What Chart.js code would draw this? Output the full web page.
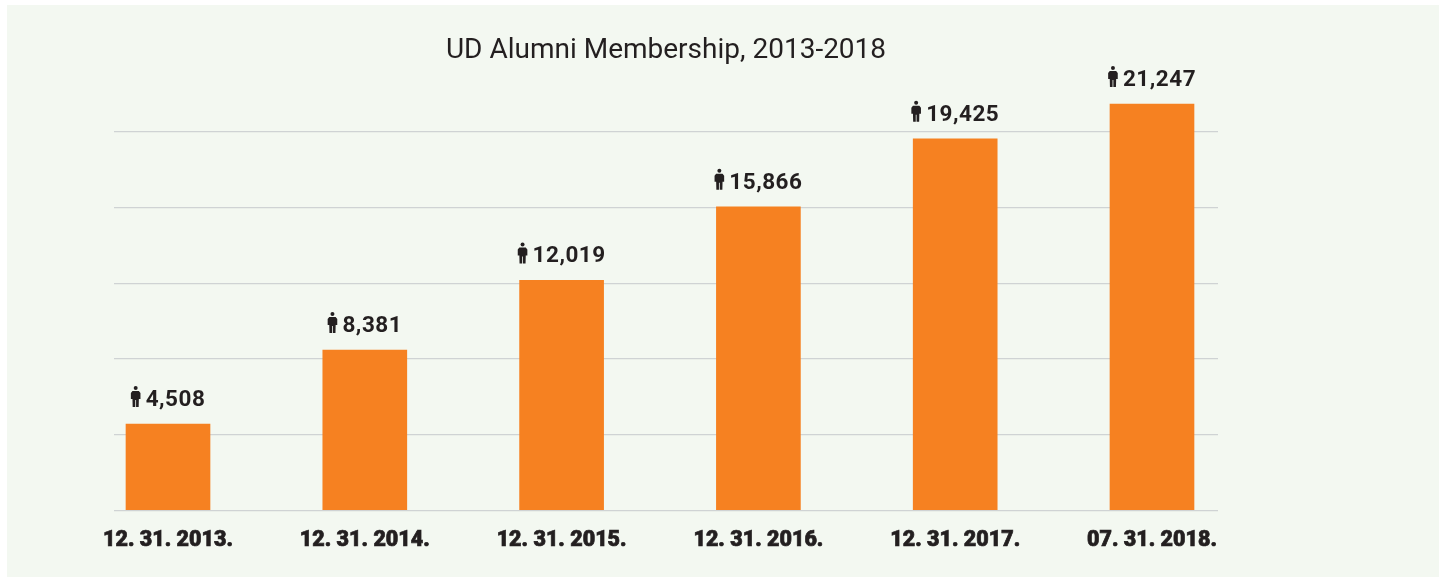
<!DOCTYPE html>
<html>
<head>
<meta charset="utf-8">
<style>
html,body{margin:0;padding:0;background:#fff;overflow:hidden}
#panel{position:absolute;left:7px;top:5px;width:1432px;height:572px;background:#f3f8f1}
#wrap{position:absolute;left:0;top:0;width:1439px;height:577px}
</style>
<script src="https://cdn.jsdelivr.net/npm/chart.js@4"></script>
</head>
<body>
<div id="panel"></div>
<div id="wrap"><canvas id="c" width="1439" height="577"></canvas></div>
<script>
const chartTitle = 'UD Alumni Membership, 2013-2018';
const categories = ['12. 31. 2013.','12. 31. 2014.','12. 31. 2015.','12. 31. 2016.','12. 31. 2017.','07. 31. 2018.'];
const members = [4508, 8381, 12019, 15866, 19425, 21247];
const gridValues = [0, 3957, 7914, 11871, 15828, 19785];
const ink = '#231f20';

const memberLabels = {
  id: 'memberLabels',
  afterDatasetsDraw(chart) {
    const ctx = chart.ctx;
    const bars = chart.getDatasetMeta(0).data;
    ctx.save();
    ctx.font = '700 22.5px Roboto';
    ctx.letterSpacing = '0.5px';
    ctx.fillStyle = ink;
    ctx.textBaseline = 'alphabetic';
    ctx.textAlign = 'left';
    bars.forEach((bar, i) => {
      const text = members[i].toLocaleString('en-US');
      const tw = ctx.measureText(text).width;
      const iconW = 10, gap = 5;
      const left = bar.x - (iconW + gap + tw) / 2;
      const base = bar.y - 18;
      ctx.fillText(text, left + iconW + gap, base);
      // person icon
      const cx = left + iconW / 2, top = base - 20;
      ctx.beginPath();
      ctx.arc(cx, top + 2, 2, 0, Math.PI * 2);
      ctx.fill();
      ctx.beginPath();
      ctx.moveTo(cx - 3.2, top + 5);
      ctx.lineTo(cx + 3.2, top + 5);
      ctx.lineTo(cx + 4.8, top + 7);
      ctx.lineTo(cx + 4.8, top + 13);
      ctx.lineTo(cx + 3.2, top + 13);
      ctx.lineTo(cx + 3, top + 21);
      ctx.lineTo(cx + 0.4, top + 21);
      ctx.lineTo(cx + 0.4, top + 14);
      ctx.lineTo(cx - 0.4, top + 14);
      ctx.lineTo(cx - 0.4, top + 21);
      ctx.lineTo(cx - 3, top + 21);
      ctx.lineTo(cx - 3.2, top + 13);
      ctx.lineTo(cx - 4.8, top + 13);
      ctx.lineTo(cx - 4.8, top + 7);
      ctx.closePath();
      ctx.fill();
    });
    ctx.restore();
  }
};

new Chart(document.getElementById('c'), {
  type: 'bar',
  data: {
    datasets: [{
      data: members.map((v, i) => ({ x: i, y: v })),
      backgroundColor: '#f68121',
      barThickness: 84,
      borderWidth: 0
    }]
  },
  options: {
    responsive: false,
    animation: false,
    layout: { padding: { left: 114, right: 221, top: 0, bottom: 13 } },
    plugins: {
      legend: { display: false },
      tooltip: { enabled: false },
      title: {
        display: true,
        text: chartTitle,
        color: ink,
        font: { family: 'Roboto', size: 28, weight: '400' },
        padding: { top: 34, bottom: 22 }
      }
    },
    scales: {
      x: {
        type: 'linear',
        offset: false,
        min: -0.2744,
        max: 5.3354,
        afterBuildTicks: s => { s.ticks = categories.map((_, i) => ({ value: i })); },
        ticks: {
          callback: v => categories[v],
          color: ink,
          font: { family: 'Roboto', size: 21.5, weight: '900' },
          textStrokeColor: ink,
          textStrokeWidth: 0.7,
          maxRotation: 0,
          autoSkip: false,
          padding: 10
        },
        grid: { display: false },
        border: { display: false }
      },
      y: {
        min: 0,
        max: 22000,
        afterBuildTicks: s => { s.ticks = gridValues.map(v => ({ value: v })); },
        ticks: { display: false },
        grid: { color: '#cfd3d4', lineWidth: 1.3, drawTicks: false },
        border: { display: false }
      }
    }
  },
  plugins: [memberLabels]
});
</script>
</body>
</html>
